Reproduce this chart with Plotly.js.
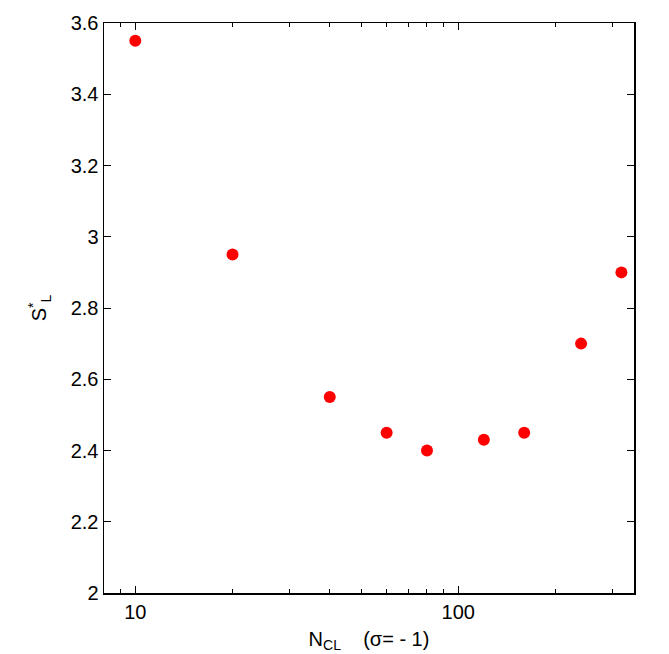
<!DOCTYPE html>
<html>
<head>
<meta charset="utf-8">
<script src="https://cdn.plot.ly/plotly-3.0.1.min.js"></script>
<style>html,body{margin:0;padding:0;background:#fff;}#chart{width:669px;height:654px;}</style>
</head>
<body>
<div id="chart"></div>
<script>
const nCL = [10, 20, 40, 60, 80, 120, 160, 240, 320];
const sL = [3.55, 2.95, 2.55, 2.45, 2.40, 2.43, 2.45, 2.70, 2.90];
const xTickVals = [10, 100];
const xTickText = ['10', '100'];
const xMinorVals = [9, 20, 30, 40, 50, 60, 70, 80, 90, 200, 300];
const yTickVals = [2, 2.2, 2.4, 2.6, 2.8, 3, 3.2, 3.4, 3.6];
const yTickText = ['2', '2.2', '2.4', '2.6', '2.8', '3', '3.2', '3.4', '3.6'];

const font = {family: 'Liberation Sans, Arial, sans-serif', size: 20, color: '#000'};

Plotly.newPlot('chart', [{
  x: nCL, y: sL, type: 'scatter', mode: 'markers',
  marker: {color: '#ff0000', size: 12},
  showlegend: false
}], {
  width: 669, height: 654,
  margin: {l: 104, r: 35, t: 23, b: 61},
  paper_bgcolor: '#fff', plot_bgcolor: '#fff',
  font: font,
  xaxis: {
    type: 'log',
    range: [Math.log10(8.0), Math.log10(350)],
    tickmode: 'array', tickvals: xTickVals, ticktext: xTickText,
    ticks: 'inside', ticklen: 7, tickwidth: 1, tickcolor: '#000',
    minor: {tickmode: 'array', tickvals: xMinorVals, ticks: 'inside', ticklen: 4, tickcolor: '#000', showgrid: false},
    showline: true, linecolor: '#000', linewidth: 1.5, mirror: 'allticks',
    showgrid: false, zeroline: false,
    tickfont: font,
    title: {text: 'N<sub>CL</sub>&nbsp;&nbsp;&nbsp;&nbsp;(σ= - 1)', font: font, standoff: 10}
  },
  yaxis: {
    range: [2, 3.6],
    tickmode: 'array', tickvals: yTickVals, ticktext: yTickText,
    ticks: 'inside', ticklen: 7, tickwidth: 1, tickcolor: '#000',
    showline: true, linecolor: '#000', linewidth: 1.5, mirror: 'allticks',
    showgrid: false, zeroline: false,
    tickfont: font,
    title: {text: 'S<sup>*</sup><sub>L</sub>', font: font, standoff: 18}
  }
}, {displayModeBar: false, staticPlot: true});
</script>
</body>
</html>
